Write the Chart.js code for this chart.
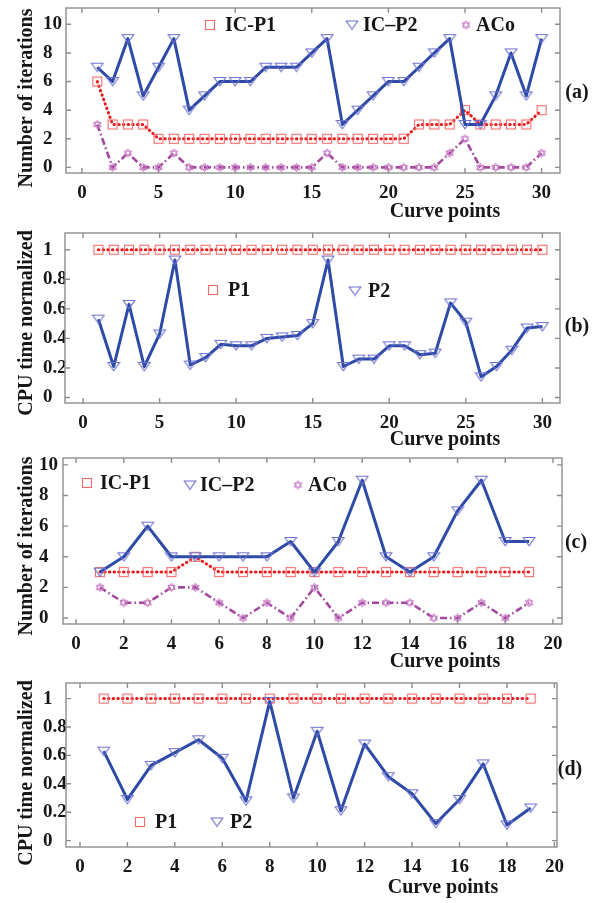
<!DOCTYPE html>
<html>
<head>
<meta charset="utf-8">
<script src="https://cdn.jsdelivr.net/npm/chart.js@4.4.1/dist/chart.umd.min.js"></script>
<style>
  body { margin: 0; background: #fff; }
  canvas { position: absolute; left: 0; }
</style>
</head>
<body>
<canvas id="chartA" width="603" height="225" style="top:0px"></canvas>
<canvas id="chartB" width="603" height="225" style="top:225px"></canvas>
<canvas id="chartC" width="603" height="225" style="top:450px"></canvas>
<canvas id="chartD" width="603" height="228" style="top:675px"></canvas>
<script>
// x categories
const curvePoints30 = [1, 2, 3, 4, 5, 6, 7, 8, 9, 10, 11, 12, 13, 14, 15, 16, 17, 18, 19, 20, 21, 22, 23, 24, 25, 26, 27, 28, 29, 30];
const curvePoints19 = [1, 2, 3, 4, 5, 6, 7, 8, 9, 10, 11, 12, 13, 14, 15, 16, 17, 18, 19];

// (a) number of iterations
const icP1A = [6, 3, 3, 3, 2, 2, 2, 2, 2, 2, 2, 2, 2, 2, 2, 2, 2, 2, 2, 2, 2, 3, 3, 3, 4, 3, 3, 3, 3, 4];
const icP2A = [7, 6, 9, 5, 7, 9, 4, 5, 6, 6, 6, 7, 7, 7, 8, 9, 3, 4, 5, 6, 6, 7, 8, 9, 3, 3, 5, 8, 5, 9];
const acoA = [3, 0, 1, 0, 0, 1, 0, 0, 0, 0, 0, 0, 0, 0, 0, 1, 0, 0, 0, 0, 0, 0, 0, 1, 2, 0, 0, 0, 0, 1];

// (b) CPU time normalized
const p1B = [1, 1, 1, 1, 1, 1, 1, 1, 1, 1, 1, 1, 1, 1, 1, 1, 1, 1, 1, 1, 1, 1, 1, 1, 1, 1, 1, 1, 1, 1];
const p2B = [0.53, 0.21, 0.63, 0.21, 0.43, 0.93, 0.22, 0.27, 0.36, 0.35, 0.35, 0.40, 0.41, 0.42, 0.50,
             0.93, 0.21, 0.26, 0.26, 0.35, 0.35, 0.29, 0.30, 0.64, 0.51, 0.14, 0.21, 0.32, 0.47, 0.48];

// (c) number of iterations
const icP1C = [3, 3, 3, 3, 4, 3, 3, 3, 3, 3, 3, 3, 3, 3, 3, 3, 3, 3, 3];
const icP2C = [3, 4, 6, 4, 4, 4, 4, 4, 5, 3, 5, 9, 4, 3, 4, 7, 9, 5, 5];
const acoC = [2, 1, 1, 2, 2, 1, 0, 1, 0, 2, 0, 1, 1, 1, 0, 0, 1, 0, 1];

// (d) CPU time normalized
const p1D = [1, 1, 1, 1, 1, 1, 1, 1, 1, 1, 1, 1, 1, 1, 1, 1, 1, 1, 1];
const p2D = [0.63, 0.29, 0.53, 0.62, 0.71, 0.58, 0.28, 0.98, 0.30, 0.77, 0.21, 0.68, 0.45, 0.33, 0.12,
             0.29, 0.54, 0.11, 0.23];

// tick labels
const xTicks30 = [0, 5, 10, 15, 20, 25, 30];
const xTicks20 = [0, 2, 4, 6, 8, 10, 12, 14, 16, 18, 20];
const iterTicks = [0, 2, 4, 6, 8, 10];
const cpuTicks = [0, 0.2, 0.4, 0.6, 0.8, 1];

const FONT = '"Liberation Serif", "Times New Roman", serif';
const TEXT = '#161616';

// marker images (matlab style, unfilled)
function makeMarker(kind, color) {
  const c = document.createElement('canvas');
  const g = c.getContext('2d');
  g.strokeStyle = color;
  g.lineWidth = 1.1;
  if (kind === 'square') {
    c.width = 12; c.height = 12;
    g.strokeStyle = color; g.lineWidth = 1.1;
    g.strokeRect(1.5, 1.5, 9, 9);
  } else if (kind === 'tri') {
    c.width = 14; c.height = 11;
    g.strokeStyle = color; g.lineWidth = 1.1;
    g.beginPath();
    g.moveTo(1.2, 1.5); g.lineTo(12.8, 1.5); g.lineTo(7, 9.8); g.closePath();
    g.stroke();
  } else {
    c.width = 11; c.height = 11;
    g.strokeStyle = color; g.lineWidth = 1;
    const r = 4.3, cx = 5.5, cy = 5.5;
    [-90, 90].forEach(a0 => {
      g.beginPath();
      for (let k = 0; k < 3; k++) {
        const a = (a0 + k * 120) * Math.PI / 180;
        const px = cx + r * Math.cos(a), py = cy + r * Math.sin(a);
        if (k === 0) g.moveTo(px, py); else g.lineTo(px, py);
      }
      g.closePath();
      g.stroke();
    });
  }
  return c;
}

const squareMark = makeMarker('square', '#f26a6a');
const triMark = makeMarker('tri', '#6d70cf');
const hexMark = makeMarker('hex', '#c77bc4');

function pts(xs, ys) {
  return xs.map((v, i) => ({ x: v, y: ys[i] }));
}

function redSet(xs, ys) {
  return {
    data: pts(xs, ys), borderColor: '#e8191b', borderWidth: 3,
    borderDash: [0.5, 4.2], borderCapStyle: 'round',
    pointStyle: squareMark, pointRadius: 5, order: 3
  };
}
function blueSet(xs, ys) {
  return {
    data: pts(xs, ys), borderColor: '#2d4aa6', borderWidth: 3,
    borderJoinStyle: 'round', pointStyle: triMark, pointRadius: 5, order: 2
  };
}
function purpleSet(xs, ys) {
  return {
    data: pts(xs, ys), borderColor: '#a2489f', borderWidth: 2.6,
    borderDash: [7, 3, 1.5, 3], pointStyle: hexMark, pointRadius: 4, order: 1
  };
}

// box, inward ticks, titles, legend and panel letter
function decor(d) {
  return {
    id: 'decor',
    beforeDatasetsDraw(chart) {
      const { ctx, chartArea: a, scales: { x, y } } = chart;
      ctx.save();
      ctx.strokeStyle = '#8d8d8d';
      ctx.lineWidth = 1.4;
      ctx.strokeRect(a.left, a.top, a.right - a.left, a.bottom - a.top);
      ctx.beginPath();
      x.ticks.forEach(t => {
        const px = x.getPixelForValue(t.value);
        ctx.moveTo(px, a.bottom); ctx.lineTo(px, a.bottom - 5);
        ctx.moveTo(px, a.top); ctx.lineTo(px, a.top + 5);
      });
      y.ticks.forEach(t => {
        const py = y.getPixelForValue(t.value);
        ctx.moveTo(a.left, py); ctx.lineTo(a.left + 5, py);
        ctx.moveTo(a.right, py); ctx.lineTo(a.right - 5, py);
      });
      ctx.stroke();
      ctx.restore();
    },
    afterDraw(chart) {
      const ctx = chart.ctx;
      ctx.save();
      ctx.fillStyle = TEXT;
      ctx.font = 'bold 20px ' + FONT;
      ctx.textBaseline = 'middle';
      // y title
      ctx.save();
      ctx.translate(d.yTitle[0], d.yTitle[1]);
      ctx.rotate(-Math.PI / 2);
      ctx.textAlign = 'center';
      ctx.fillText(d.yTitleText, 0, 0);
      ctx.restore();
      // x title
      ctx.textAlign = 'center';
      ctx.fillText('Curve points', d.xTitle[0], d.xTitle[1]);
      // panel letter
      ctx.fillText(d.letter, d.letterPos[0], d.letterPos[1]);
      // legend
      ctx.textAlign = 'left';
      d.legend.forEach(it => {
        ctx.drawImage(it.mark, it.m[0] - it.mark.width / 2, it.m[1] - it.mark.height / 2);
        ctx.fillText(it.text, it.t, it.m[1] + 1);
      });
      ctx.restore();
    }
  };
}

function makePanel(id, box, xr, yr, xTicks, yTicks, datasets, d) {
  const canvas = document.getElementById(id);
  const H = canvas.height;
  const tickFont = { family: FONT, size: 19, weight: 'bold' };
  return new Chart(canvas.getContext('2d'), {
    type: 'line',
    data: { datasets: datasets },
    options: {
      responsive: false,
      animation: false,
      events: [],
      layout: { padding: { left: box.labelLeft, top: box.top, right: 603 - box.right, bottom: 0 } },
      plugins: { legend: { display: false }, tooltip: { enabled: false } },
      scales: {
        x: {
          type: 'linear', min: xr[0], max: xr[1],
          grid: { display: false, drawTicks: false }, border: { display: false },
          afterBuildTicks: s => { s.ticks = xTicks.map(v => ({ value: v })); },
          afterFit: s => {
            s.height = H - box.bottom;
            s.paddingLeft = 0; s.paddingRight = 0; s.paddingTop = 0; s.paddingBottom = 0;
          },
          ticks: { font: tickFont, color: TEXT, padding: 9, maxRotation: 0, autoSkip: false,
                   callback: v => String(v) }
        },
        y: {
          type: 'linear', min: yr[0], max: yr[1],
          grid: { display: false, drawTicks: false }, border: { display: false },
          afterBuildTicks: s => { s.ticks = yTicks.map(v => ({ value: v })); },
          afterFit: s => {
            s.width = box.left - box.labelLeft;
            s.paddingLeft = 0; s.paddingRight = 0; s.paddingTop = 0; s.paddingBottom = 0;
          },
          ticks: { font: tickFont, color: TEXT, padding: 4, crossAlign: 'far', autoSkip: false,
                   callback: v => String(v) }
        }
      }
    },
    plugins: [decor(d)]
  });
}

makePanel('chartA', { left: 66, right: 560, top: 4, bottom: 173, labelLeft: 43 },
  [-1.04, 31.2], [-0.39, 11.14], xTicks30, iterTicks,
  [redSet(curvePoints30, icP1A), blueSet(curvePoints30, icP2A), purpleSet(curvePoints30, acoA)],
  { yTitleText: 'Number of iterations', yTitle: [27, 98], xTitle: [445, 212],
    letter: '(a)', letterPos: [577, 93],
    legend: [{ mark: squareMark, m: [210, 25], t: 225, text: 'IC-P1' },
             { mark: triMark, m: [352, 25], t: 363, text: 'IC\u2013P2' },
             { mark: hexMark, m: [466, 25], t: 476, text: 'ACo' }] });

makePanel('chartB', { left: 65, right: 560, top: 8, bottom: 178, labelLeft: 43 },
  [-1.18, 31.15], [-0.037, 1.113], xTicks30, cpuTicks,
  [redSet(curvePoints30, p1B), blueSet(curvePoints30, p2B)],
  { yTitleText: 'CPU time normalized', yTitle: [27, 98], xTitle: [445, 215],
    letter: '(b)', letterPos: [577, 102],
    legend: [{ mark: squareMark, m: [213, 65], t: 228, text: 'P1' },
             { mark: triMark, m: [355, 66], t: 368, text: 'P2' }] });

makePanel('chartC', { left: 63, right: 562, top: 8, bottom: 174, labelLeft: 39 },
  [-0.55, 20.38], [-0.39, 10.45], xTicks20, iterTicks,
  [redSet(curvePoints19, icP1C), blueSet(curvePoints19, icP2C), purpleSet(curvePoints19, acoC)],
  { yTitleText: 'Number of iterations', yTitle: [27, 96], xTitle: [445, 212],
    letter: '(c)', letterPos: [576, 93],
    legend: [{ mark: squareMark, m: [87, 33], t: 100, text: 'IC-P1' },
             { mark: triMark, m: [190, 35], t: 200, text: 'IC\u2013P2' },
             { mark: hexMark, m: [298, 35], t: 308, text: 'ACo' }] });

makePanel('chartD', { left: 66, right: 557, top: 8, bottom: 172, labelLeft: 43 },
  [-0.59, 20.11], [-0.045, 1.11], xTicks20, cpuTicks,
  [redSet(curvePoints19, p1D), blueSet(curvePoints19, p2D)],
  { yTitleText: 'CPU time normalized', yTitle: [27, 98], xTitle: [443, 213],
    letter: '(d)', letterPos: [570, 95],
    legend: [{ mark: squareMark, m: [140, 147], t: 155, text: 'P1' },
             { mark: triMark, m: [217, 147], t: 230, text: 'P2' }] });
</script>
</body>
</html>
